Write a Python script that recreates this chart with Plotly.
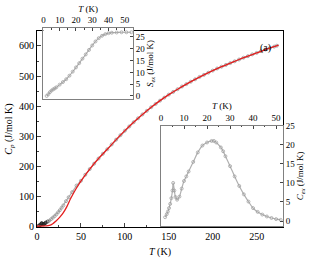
import plotly.graph_objects as go

# ---- main panel: measured Cp (gray markers) ----
T_meas = [2, 3, 4, 5, 5.3, 6, 7, 8, 9, 10, 12, 14, 16, 18, 20, 22, 24, 26, 28, 30,
          33, 36, 40, 45, 50, 55, 60, 65, 70, 75, 80, 85, 90, 95, 100, 105, 110, 115,
          120, 125, 130, 135, 140, 145, 150, 155, 160, 165, 170, 175, 180, 185, 190,
          195, 200, 205, 210, 215, 220, 225, 230, 235, 240, 245, 250, 255, 260, 265,
          270, 273]
Cp_meas = [1.5, 2.5, 4.5, 8, 10, 7.5, 6, 7, 9, 11.5, 15, 18, 23, 28, 33, 39, 46, 53, 61, 69,
           83, 96, 113, 135, 151, 171, 190, 208, 225, 241, 256, 272, 288, 303, 318, 332, 346, 359,
           372, 384, 396, 407, 418, 428, 438, 447, 456, 465, 473, 481, 489, 497, 504,
           511, 518, 525, 531, 537, 543, 549, 555, 561, 566, 572, 577, 583, 588, 593,
           598, 601]

# ---- main panel: lattice fit (red line) ----
T_fit = [0, 10, 14, 18, 22, 26, 30, 34, 38, 42, 46, 50, 60, 70, 80, 90, 100, 110, 120,
         130, 140, 150, 160, 170, 180, 190, 200, 210, 220, 230, 240, 250, 260, 270, 275]
Cp_fit = [0, 0.5, 2, 8, 18, 30, 45, 65, 90, 112, 132, 150, 190, 225, 256, 288, 318, 346, 372,
          396, 418, 438, 456, 473, 489, 504, 518, 531, 543, 555, 566, 577, 588, 598, 603]

# ---- inset 1: S_ex ----
T_S = [2, 3, 4, 5, 6, 7, 8, 10, 12, 14, 16, 18, 20, 22, 24, 26, 28, 30, 32, 34, 36, 38,
       40, 42, 45, 48, 51, 54]
S_ex = [0, 0.7, 1.6, 2.3, 2.8, 3.2, 3.7, 4.8, 5.9, 7.1, 8.6, 10.3, 12.1, 13.9, 15.8, 17.6,
        19.5, 21.4, 23.1, 24.5, 25.5, 26.2, 26.6, 26.8, 26.9, 27, 27, 27]

# ---- inset 2: C_ex ----
T_C = [1.8, 2.5, 3, 3.5, 4, 4.5, 5, 5.3, 5.8, 6.3, 7, 8, 9, 10, 11, 12, 14, 16, 18, 20,
       22, 23, 24, 26, 27, 28, 30, 32, 34, 36, 38, 40, 42, 44, 46, 48, 50, 52]
C_ex = [1, 1.8, 2.5, 3.4, 4.5, 6, 8, 10, 8, 6.3, 5.6, 6.4, 8.5, 10.5, 11.7, 13, 15.5, 18,
        19.8, 20.6, 21, 21, 20.6, 19.3, 18.3, 17, 14.4, 11.7, 9.2, 7, 5.1, 3.4, 2.4, 1.7,
        1.2, 0.8, 0.5, 0.3]

FONT = "Liberation Serif"
GRAY = "#b0b0b0"
MK = "#999999"
FRAME = "#808080"

fig = go.Figure()

dark = ["#222222" if t <= 12 else MK for t in T_meas]
fig.add_trace(go.Scatter(x=T_meas, y=Cp_meas, mode="lines+markers",
                         line=dict(color=GRAY, width=1.2),
                         marker=dict(symbol="circle-open", size=3, color=dark,
                                     line=dict(width=0.8)),
                         xaxis="x", yaxis="y", showlegend=False))
fig.add_trace(go.Scatter(x=T_fit, y=Cp_fit, mode="lines",
                         line=dict(color="#e41e1e", width=1.3, shape="spline"),
                         xaxis="x", yaxis="y", showlegend=False))
fig.add_trace(go.Scatter(x=T_S, y=S_ex, mode="lines+markers",
                         line=dict(color=GRAY, width=1.2, shape="spline"),
                         marker=dict(symbol="circle-open", size=3, color=MK,
                                     line=dict(width=0.7)),
                         xaxis="x2", yaxis="y2", showlegend=False))
fig.add_trace(go.Scatter(x=T_C, y=C_ex, mode="lines+markers",
                         line=dict(color=GRAY, width=1.2, shape="spline"),
                         marker=dict(symbol="circle-open", size=3, color=MK,
                                     line=dict(width=0.7)),
                         xaxis="x3", yaxis="y3", showlegend=False))

tickfont = dict(family=FONT, size=10, color="black")
small = dict(family=FONT, size=9, color="black")

fig.update_layout(
    width=332, height=260,
    margin=dict(l=37, r=49, t=28, b=33),
    paper_bgcolor="white", plot_bgcolor="white",
    font=dict(family=FONT, size=10, color="black"),
    xaxis=dict(domain=[0, 1], anchor="y", range=[0, 280], automargin=False,
               tickvals=[0, 50, 100, 150, 200, 250], ticks="inside", ticklen=4,
               minor=dict(dtick=25, tick0=0, ticks="inside", ticklen=2),
               showline=True, linecolor="black", linewidth=1, mirror=True,
               showgrid=False, zeroline=False, tickfont=tickfont,
               title=dict(text="<i>T</i> (K)", font=dict(family=FONT, size=10),
                          standoff=6)),
    yaxis=dict(domain=[0, 0.985], anchor="x", range=[-3, 650], automargin=False,
               tickvals=[0, 100, 200, 300, 400, 500, 600], ticks="inside", ticklen=4,
               minor=dict(dtick=50, tick0=0, ticks="inside", ticklen=2),
               showline=True, linecolor="black", linewidth=1, mirror=True,
               showgrid=False, zeroline=False, tickfont=tickfont,
               title=dict(text="<i>C<sub>p</sub></i> (J/mol K)",
                          font=dict(family=FONT, size=10), standoff=4)),
    xaxis2=dict(domain=[0.026, 0.39], anchor="y2", side="top", range=[0, 55],
                automargin=False,
                tickvals=[0, 10, 20, 30, 40, 50], ticks="inside", ticklen=3,
                minor=dict(dtick=5, tick0=0, ticks="inside", ticklen=1.5),
                showline=True, linecolor=FRAME, linewidth=1, mirror=True,
                showgrid=False, zeroline=False, tickfont=small,
                title=dict(text="<i>T</i> (K)", font=dict(family=FONT, size=9),
                           standoff=1)),
    yaxis2=dict(domain=[0.643, 1.0], anchor="x2", side="right", range=[-1.3, 28.8],
                automargin=False,
                tickvals=[0, 5, 10, 15, 20, 25], ticks="inside", ticklen=3,
                showline=True, linecolor=FRAME, linewidth=1, mirror=True,
                showgrid=False, zeroline=False, tickfont=small,
                title=dict(text="<i>S<sub>ex</sub></i> (J/mol K)",
                           font=dict(family=FONT, size=9), standoff=1)),
    xaxis3=dict(domain=[0.504, 1.0], anchor="y3", side="top", range=[0, 53],
                automargin=False,
                tickvals=[0, 10, 20, 30, 40, 50], ticks="inside", ticklen=3,
                minor=dict(dtick=5, tick0=0, ticks="inside", ticklen=1.5),
                showline=True, linecolor=FRAME, linewidth=1, mirror=True,
                showgrid=False, zeroline=False, tickfont=small,
                title=dict(text="<i>T</i> (K)", font=dict(family=FONT, size=9),
                           standoff=1)),
    yaxis3=dict(domain=[0.005, 0.509], anchor="x3", side="right", range=[-1.3, 25],
                automargin=False,
                tickvals=[0, 5, 10, 15, 20, 25], ticks="inside", ticklen=3,
                showline=True, linecolor=FRAME, linewidth=1, mirror=True,
                showgrid=False, zeroline=False, tickfont=small,
                title=dict(text="<i>C<sub>ex</sub></i> (J/mol K)",
                           font=dict(family=FONT, size=9), standoff=1)),
    annotations=[dict(text="(a)", x=0.96, y=0.94, xref="paper", yref="paper",
                      showarrow=False, font=dict(family=FONT, size=10))],
)

fig.write_html("out.html", config={"displayModeBar": False})

# remove the default page margin so the figure sits at the window origin
with open("out.html", "r", encoding="utf-8") as f:
    html = f.read()
html = html.replace("<head>", "<head><style>html,body{margin:0;padding:0;overflow:hidden;}</style>", 1)
with open("out.html", "w", encoding="utf-8") as f:
    f.write(html)
